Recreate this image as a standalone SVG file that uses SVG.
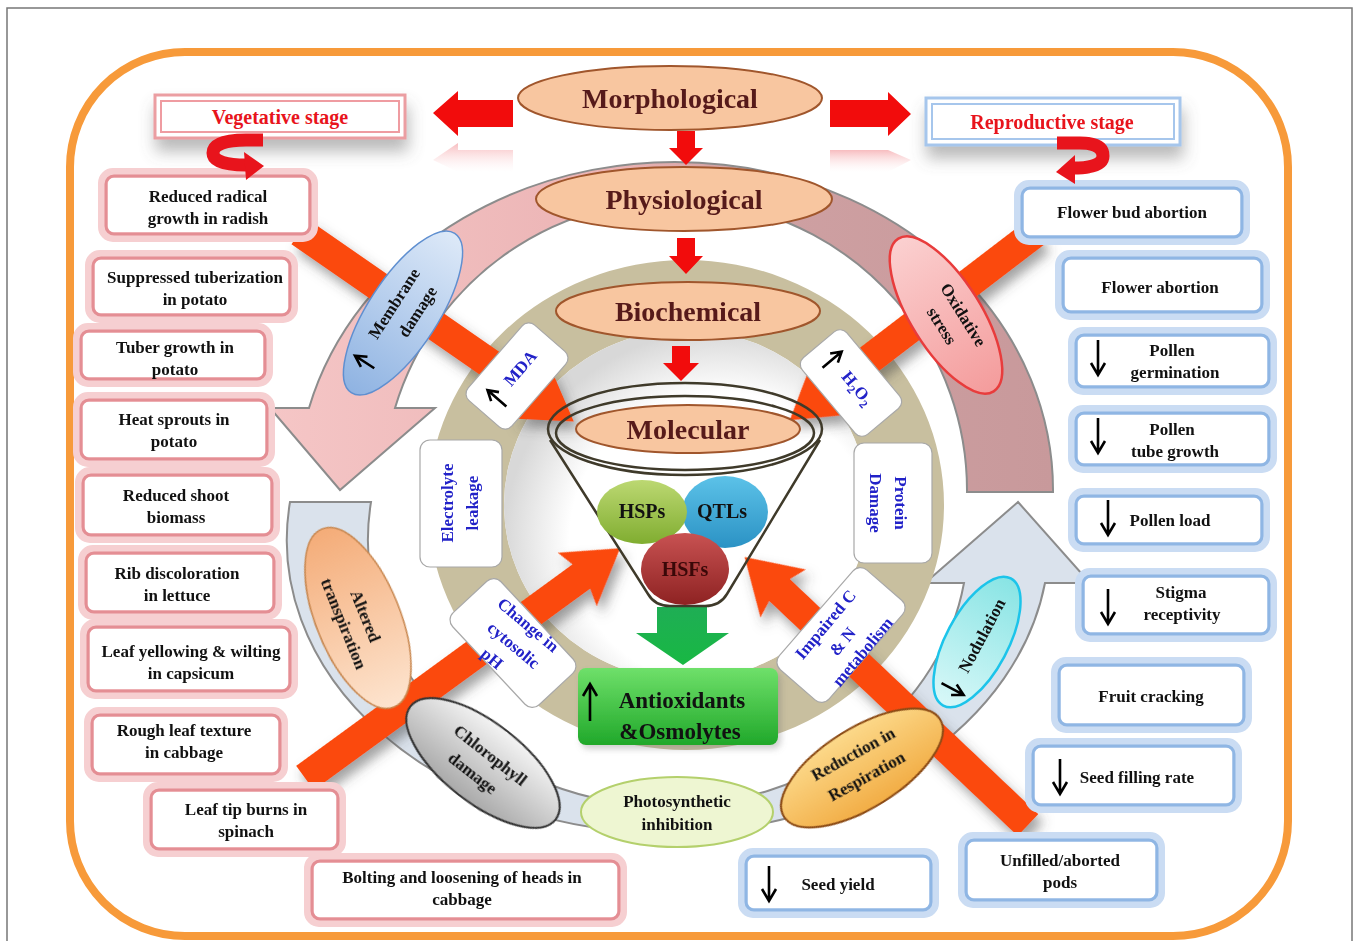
<svg xmlns="http://www.w3.org/2000/svg" width="1358" height="941" viewBox="0 0 1358 941">
<defs>
<style>
.t{font-family:"Liberation Serif","Times New Roman",serif;font-weight:bold;text-anchor:middle}
.bx{font-size:17px;fill:#111}
.blu{font-size:17px;fill:#2222c8}
.big{font-size:28px;fill:#561a1a}
.stg{font-size:20px;fill:#e8141c}
.pk1{fill:#fff;stroke:#f6cfd1;stroke-width:10}
.pk2{fill:none;stroke:#e48e94;stroke-width:3}
.bl1{fill:#fff;stroke:#cadcf3;stroke-width:10}
.bl2{fill:none;stroke:#8fb6e4;stroke-width:3}
.lvl{fill:#f8c6a0;stroke:#a0562c;stroke-width:2}
.wb{fill:#fff;stroke:#a8a8a8;stroke-width:1.2}
.bar{fill:#fb4a0b}
.arr{fill:none;stroke:#000;stroke-width:2.6}
.hook{fill:none;stroke:#e8141c;stroke-width:13}
</style>
<filter id="sh" x="-30%" y="-30%" width="160%" height="180%"><feDropShadow dx="5" dy="8" stdDeviation="6" flood-color="#444" flood-opacity="0.5"/></filter>
<filter id="sh2" x="-20%" y="-40%" width="140%" height="220%"><feDropShadow dx="2" dy="12" stdDeviation="8" flood-color="#666" flood-opacity="0.45"/></filter>
<filter id="sh3" x="-20%" y="-20%" width="140%" height="140%"><feDropShadow dx="3" dy="4" stdDeviation="3" flood-color="#777" flood-opacity="0.35"/></filter>
<linearGradient id="gUp" x1="0" y1="0" x2="1" y2="0"><stop offset="0" stop-color="#f5c6c6"/><stop offset="0.45" stop-color="#ebb3b4"/><stop offset="0.6" stop-color="#cfa1a3"/><stop offset="1" stop-color="#c8999b"/></linearGradient>
<linearGradient id="gRef" x1="0" y1="0" x2="0" y2="1"><stop offset="0" stop-color="#f4a0a4" stop-opacity="0.7"/><stop offset="1" stop-color="#fde4e5" stop-opacity="0"/></linearGradient>
<linearGradient id="gMem" x1="0" y1="0" x2="1" y2="0"><stop offset="0" stop-color="#8fb3e2"/><stop offset="1" stop-color="#dde9f8"/></linearGradient>
<linearGradient id="gOx" x1="0" y1="0" x2="1" y2="0"><stop offset="0" stop-color="#fbd0d0"/><stop offset="1" stop-color="#f49c9c"/></linearGradient>
<linearGradient id="gAlt" x1="0" y1="0" x2="1" y2="0"><stop offset="0" stop-color="#f4ac78"/><stop offset="1" stop-color="#fde4cf"/></linearGradient>
<linearGradient id="gChl" x1="0" y1="0" x2="0" y2="1"><stop offset="0" stop-color="#f4f4f4"/><stop offset="1" stop-color="#a9a9a9"/></linearGradient>
<linearGradient id="gRes" x1="0" y1="0" x2="0" y2="1"><stop offset="0" stop-color="#fcd98a"/><stop offset="1" stop-color="#f2ad45"/></linearGradient>
<linearGradient id="gNod" x1="0" y1="0" x2="1" y2="0"><stop offset="0" stop-color="#d8f8f8"/><stop offset="1" stop-color="#88e4e4"/></linearGradient>
<linearGradient id="gHSP" x1="0" y1="0" x2="0" y2="1"><stop offset="0" stop-color="#bcd872"/><stop offset="1" stop-color="#80ad30"/></linearGradient>
<linearGradient id="gQTL" x1="0" y1="0" x2="0" y2="1"><stop offset="0" stop-color="#5cc2e8"/><stop offset="1" stop-color="#2b92c4"/></linearGradient>
<linearGradient id="gHSF" x1="0" y1="0" x2="0" y2="1"><stop offset="0" stop-color="#c85252"/><stop offset="1" stop-color="#8e2222"/></linearGradient>
<linearGradient id="gGr" x1="0" y1="0" x2="0" y2="1"><stop offset="0" stop-color="#6fe06a"/><stop offset="1" stop-color="#20a82a"/></linearGradient>
<linearGradient id="gGA" x1="0" y1="0" x2="0" y2="1"><stop offset="0" stop-color="#1fae55"/><stop offset="1" stop-color="#18b843"/></linearGradient>
<radialGradient id="gIn" cx="0.6" cy="0.6" r="0.6"><stop offset="0.7" stop-color="#fff"/><stop offset="1" stop-color="#d8d8d8"/></radialGradient>
<path id="dn" class="arr" d="M0,0 V34 M-7,23 L0,35 L7,23"/>
</defs>

<rect width="1358" height="941" fill="#fff"/>
<rect x="7" y="8" width="1345" height="945" fill="none" stroke="#777" stroke-width="1.5"/>
<rect id="frame" x="70" y="52" width="1218" height="884" rx="115" fill="none" stroke="#f79a3a" stroke-width="8"/>

<g id="bands">
<path d="M309,408 A378,328 0 0 1 1053,492 L967,492 A292,290 0 0 0 395,408 L435,408 L340,490 L270,408 Z" fill="url(#gUp)" stroke="#8c8c8c" stroke-width="2"/>
<path d="M290,502 A381,293 0 0 0 668,833 A381,293 0 0 0 1045,583 L1090,583 L1018,502 L925,583 L964,583 A300,266 0 0 1 668,806 A300,266 0 0 1 371,502 Z" fill="#dae2ec" stroke="#8c8c8c" stroke-width="2"/>
<path d="M428,505 A258,245 0 1 0 944,505 A258,245 0 1 0 428,505 Z M504,505 A182,175 0 1 1 868,505 A182,175 0 1 1 504,505 Z" fill="#c8bf9f" fill-rule="evenodd"/>
<ellipse cx="686" cy="505" rx="182" ry="175" fill="url(#gIn)"/>
</g>

<g id="connectors">
<polygon points="513,100 458,100 458,91 433,113 458,136 458,127 513,127" fill="#f20c0c"/>
<polygon points="513,150 458,150 458,143 433,160 458,172 513,172" fill="url(#gRef)"/>
<polygon points="830,100 888,100 888,92 911,114 888,136 888,127 830,127" fill="#f20c0c"/>
<polygon points="830,150 888,150 911,160 888,172 830,172" fill="url(#gRef)"/>
<polygon points="677,131 695,131 695,148 703,148 686,165 669,148 677,148" fill="#f20c0c"/>
<polygon points="677,238 695,238 695,256 703,256 686,274 669,256 677,256" fill="#f20c0c"/>
<polygon points="672,346 690,346 690,363 699,363 681,381 663,363 672,363" fill="#f20c0c"/>
<g filter="url(#sh)">
<polygon class="bar" transform="translate(300,232) rotate(34.7)" points="0,-15 285,-15 280,-33 333,0 280,33 285,15 0,15"/>
<polygon class="bar" transform="translate(1036,232) rotate(142.6)" points="0,-15 262,-15 257,-33 310,0 257,33 262,15 0,15"/>
<polygon class="bar" transform="translate(305,778) rotate(-36.1)" points="0,-15 342,-15 337,-33 390,0 337,33 342,15 0,15"/>
<polygon class="bar" transform="translate(1028,825) rotate(-136.6)" points="0,-15 342,-15 337,-33 390,0 337,33 342,15 0,15"/>
</g>
<polygon points="657,607 707,607 707,633 729,633 683,665 636,633 657,633" fill="url(#gGA)"/>
</g>

<g id="funnel" fill="none" stroke="#3f3a2a" stroke-width="2.5">
<ellipse cx="685" cy="429" rx="137" ry="46"/>
<ellipse cx="685" cy="433" rx="129" ry="37"/>
<path d="M550,440 L648,594 Q655,606 670,606 L705,606 Q720,606 727,594 L820,440"/>
</g>

<g id="morphological"><ellipse class="lvl" cx="670" cy="98" rx="152" ry="32"/><text class="t big" x="670" y="108">Morphological</text></g>
<g id="physiological"><ellipse class="lvl" cx="684" cy="199" rx="148" ry="32"/><text class="t big" x="684" y="209">Physiological</text></g>
<g id="biochemical"><ellipse class="lvl" cx="688" cy="311" rx="132" ry="29"/><text class="t big" x="688" y="321">Biochemical</text></g>
<g id="molecular"><ellipse class="lvl" cx="688" cy="429" rx="112" ry="24"/><text class="t big" x="688" y="439">Molecular</text></g>

<g id="qtls"><ellipse cx="725" cy="512" rx="43" ry="36" fill="url(#gQTL)"/><text class="t" x="722" y="518" font-size="20" fill="#111">QTLs</text></g>
<g id="hsps"><ellipse cx="642" cy="512" rx="45" ry="32" fill="url(#gHSP)"/><text class="t" x="642" y="518" font-size="20" fill="#111">HSPs</text></g>
<g id="hsfs"><ellipse cx="685" cy="569" rx="44" ry="36" fill="url(#gHSF)"/><text class="t" x="685" y="576" font-size="20" fill="#3a0808">HSFs</text></g>

<g id="antioxidants"><rect x="578" y="668" width="200" height="77" rx="8" fill="url(#gGr)" filter="url(#sh3)"/>
<path class="arr" d="M590,721 V685 M583,696 L590,684 L597,696"/>
<text class="t" x="682" y="708" font-size="23" fill="#111">Antioxidants</text>
<text class="t" x="680" y="739" font-size="23" fill="#111">&amp;Osmolytes</text></g>

<g id="mda" transform="translate(517,376) rotate(-49)"><rect class="wb" x="-50" y="-29" width="100" height="58" rx="9"/>
<path class="arr" d="M-30,12 V-12 M-36,-3 L-30,-13 L-24,-3"/><text class="t blu" x="8" y="3">MDA</text></g>
<g id="h2o2" transform="translate(851,383) rotate(50)"><rect class="wb" x="-50" y="-29" width="100" height="58" rx="9"/>
<path class="arr" d="M-30,12 V-12 M-36,-3 L-30,-13 L-24,-3"/><text class="t blu" x="8" y="4">H<tspan font-size="12" dy="4">2</tspan><tspan dy="-4">O</tspan><tspan font-size="12" dy="4">2</tspan></text></g>
<g id="electrolyte"><rect class="wb" x="420" y="440" width="82" height="127" rx="10"/>
<text class="t blu" transform="translate(461,503) rotate(-90)"><tspan x="0" y="-8">Electrolyte</tspan><tspan x="0" y="17">leakage</tspan></text></g>
<g id="protein"><rect class="wb" x="854" y="443" width="78" height="120" rx="10"/>
<text class="t blu" transform="translate(893,503) rotate(90)"><tspan x="0" y="-2">Protein</tspan><tspan x="0" y="23">Damage</tspan></text></g>
<g id="cytosolic"><rect class="wb" transform="translate(513,643) rotate(47)" x="-63" y="-33" width="126" height="66" rx="10"/>
<text class="t blu" transform="translate(513,643) rotate(40)"><tspan x="0" y="-18">Change in</tspan><tspan x="2" y="7">cytosolic</tspan><tspan x="-6" y="31">pH</tspan></text></g>
<g id="impaired"><rect class="wb" transform="translate(841,635) rotate(-49)" x="-66" y="-33" width="132" height="66" rx="10"/>
<text class="t blu" transform="translate(841,635) rotate(-50)"><tspan x="-2" y="-13">Impaired C</tspan><tspan x="-4" y="11">&amp; N</tspan><tspan x="1" y="33">metabolism</tspan></text></g>

<g id="membrane" transform="translate(403,313) rotate(-57)"><ellipse rx="95" ry="35" fill="url(#gMem)" stroke="#5f8fd0" stroke-width="1.5"/>
<path class="arr" d="M-62,6 V-16 M-68,-6 L-62,-17 L-56,-6"/>
<text class="t bx"><tspan x="3" y="-7">Membrane</tspan><tspan x="9" y="17">damage</tspan></text></g>
<g id="oxidative" transform="translate(946,315) rotate(58)"><ellipse rx="90" ry="35" fill="url(#gOx)" stroke="#e83c3c" stroke-width="2.5"/>
<text class="t bx"><tspan x="9" y="-9">Oxidative</tspan><tspan x="7" y="15">stress</tspan></text></g>
<g id="altered" transform="translate(358,618) rotate(68)"><ellipse rx="96" ry="42" fill="url(#gAlt)" stroke="#c8874f" stroke-width="1.5"/>
<text class="t bx"><tspan x="1" y="-2">Altered</tspan><tspan x="0" y="21">transpiration</tspan></text></g>
<g id="chlorophyll" transform="translate(483,763) rotate(38)"><ellipse rx="92" ry="40" fill="url(#gChl)" stroke="#333" stroke-width="2"/>
<text class="t bx"><tspan x="1" y="-5">Chlorophyll</tspan><tspan x="-2" y="20">damage</tspan></text></g>
<g id="photosynthetic"><ellipse cx="677" cy="812" rx="96" ry="35" fill="#eef6d2" stroke="#b4d06c" stroke-width="2"/>
<text class="t bx"><tspan x="677" y="807">Photosynthetic</tspan><tspan x="677" y="830">inhibition</tspan></text></g>
<g id="respiration" transform="translate(862,768) rotate(-32)"><ellipse rx="92" ry="40" fill="url(#gRes)" stroke="#8b4a14" stroke-width="2"/>
<text class="t bx" transform="rotate(3)"><tspan x="-1" y="-11">Reduction in</tspan><tspan x="0" y="15">Respiration</tspan></text></g>
<g id="nodulation" transform="translate(977,642) rotate(-62)"><ellipse rx="72" ry="31" fill="url(#gNod)" stroke="#1cc4ea" stroke-width="2.5"/>
<path class="arr" d="M-53,-12 V12 M-59,2 L-53,13 L-47,2"/>
<text class="t bx" x="8" y="7">Nodulation</text></g>

<g id="vegetative"><rect x="155" y="95" width="250" height="43" fill="#fff" stroke="#eb9ea2" stroke-width="3" filter="url(#sh2)"/>
<rect x="161" y="101" width="238" height="31" fill="none" stroke="#ef9ca1" stroke-width="2"/>
<text class="t stg" x="280" y="124">Vegetative stage</text></g>
<g id="reproductive"><rect x="926" y="98" width="254" height="47" fill="#fff" stroke="#a6c6ec" stroke-width="3" filter="url(#sh2)"/>
<rect x="932" y="104" width="242" height="35" fill="none" stroke="#a6c6ec" stroke-width="2"/>
<text class="t stg" x="1052" y="129">Reproductive stage</text></g>

<g id="v1"><rect class="pk1" x="103" y="173" width="210" height="64" rx="10"/><rect class="pk2" x="106" y="176" width="204" height="58" rx="8"/><text class="t bx"><tspan x="208" y="202">Reduced radical</tspan><tspan x="208" y="224">growth in radish</tspan></text></g>
<g id="v2"><rect class="pk1" x="90" y="255" width="203" height="63" rx="10"/><rect class="pk2" x="93" y="258" width="197" height="57" rx="8"/><text class="t bx"><tspan x="195" y="283">Suppressed tuberization</tspan><tspan x="195" y="305">in potato</tspan></text></g>
<g id="v3"><rect class="pk1" x="78" y="328" width="190" height="54" rx="10"/><rect class="pk2" x="81" y="331" width="184" height="48" rx="8"/><text class="t bx"><tspan x="175" y="353">Tuber growth in</tspan><tspan x="175" y="375">potato</tspan></text></g>
<g id="v4"><rect class="pk1" x="78" y="397" width="192" height="65" rx="10"/><rect class="pk2" x="81" y="400" width="186" height="59" rx="8"/><text class="t bx"><tspan x="174" y="425">Heat sprouts in</tspan><tspan x="174" y="447">potato</tspan></text></g>
<g id="v5"><rect class="pk1" x="80" y="472" width="195" height="66" rx="10"/><rect class="pk2" x="83" y="475" width="189" height="60" rx="8"/><text class="t bx"><tspan x="176" y="501">Reduced shoot</tspan><tspan x="176" y="523">biomass</tspan></text></g>
<g id="v6"><rect class="pk1" x="83" y="550" width="194" height="65" rx="10"/><rect class="pk2" x="86" y="553" width="188" height="59" rx="8"/><text class="t bx"><tspan x="177" y="579">Rib discoloration</tspan><tspan x="177" y="601">in lettuce</tspan></text></g>
<g id="v7"><rect class="pk1" x="85" y="624" width="208" height="70" rx="10"/><rect class="pk2" x="88" y="627" width="202" height="64" rx="8"/><text class="t bx"><tspan x="191" y="657">Leaf yellowing &amp; wilting</tspan><tspan x="191" y="679">in capsicum</tspan></text></g>
<g id="v8"><rect class="pk1" x="89" y="712" width="194" height="65" rx="10"/><rect class="pk2" x="92" y="715" width="188" height="59" rx="8"/><text class="t bx"><tspan x="184" y="736">Rough leaf texture</tspan><tspan x="184" y="758">in cabbage</tspan></text></g>
<g id="v9"><rect class="pk1" x="148" y="787" width="193" height="65" rx="10"/><rect class="pk2" x="151" y="790" width="187" height="59" rx="8"/><text class="t bx"><tspan x="246" y="815">Leaf tip burns in</tspan><tspan x="246" y="837">spinach</tspan></text></g>
<g id="v10"><rect class="pk1" x="309" y="858" width="313" height="64" rx="10"/><rect class="pk2" x="312" y="861" width="307" height="58" rx="8"/><text class="t bx"><tspan x="462" y="883">Bolting and loosening of heads in</tspan><tspan x="462" y="905">cabbage</tspan></text></g>

<g id="r1"><rect class="bl1" x="1019" y="185" width="226" height="55" rx="10"/><rect class="bl2" x="1022" y="188" width="220" height="49" rx="8"/><text class="t bx" x="1132" y="218">Flower bud abortion</text></g>
<g id="r2"><rect class="bl1" x="1060" y="255" width="205" height="60" rx="10"/><rect class="bl2" x="1063" y="258" width="199" height="54" rx="8"/><text class="t bx" x="1160" y="293">Flower abortion</text></g>
<g id="r3"><rect class="bl1" x="1073" y="332" width="199" height="58" rx="10"/><rect class="bl2" x="1076" y="335" width="193" height="52" rx="8"/><use href="#dn" x="1098" y="340"/><text class="t bx"><tspan x="1172" y="356">Pollen</tspan><tspan x="1175" y="378">germination</tspan></text></g>
<g id="r4"><rect class="bl1" x="1073" y="410" width="199" height="58" rx="10"/><rect class="bl2" x="1076" y="413" width="193" height="52" rx="8"/><use href="#dn" x="1098" y="418"/><text class="t bx"><tspan x="1172" y="435">Pollen</tspan><tspan x="1175" y="457">tube growth</tspan></text></g>
<g id="r5"><rect class="bl1" x="1073" y="493" width="192" height="54" rx="10"/><rect class="bl2" x="1076" y="496" width="186" height="48" rx="8"/><use href="#dn" x="1108" y="500"/><text class="t bx" x="1170" y="526">Pollen load</text></g>
<g id="r6"><rect class="bl1" x="1080" y="573" width="192" height="64" rx="10"/><rect class="bl2" x="1083" y="576" width="186" height="58" rx="8"/><use href="#dn" x="1108" y="589"/><text class="t bx"><tspan x="1181" y="598">Stigma</tspan><tspan x="1182" y="620">receptivity</tspan></text></g>
<g id="r7"><rect class="bl1" x="1056" y="662" width="191" height="66" rx="10"/><rect class="bl2" x="1059" y="665" width="185" height="60" rx="8"/><text class="t bx" x="1151" y="702">Fruit cracking</text></g>
<g id="r8"><rect class="bl1" x="1030" y="743" width="207" height="65" rx="10"/><rect class="bl2" x="1033" y="746" width="201" height="59" rx="8"/><use href="#dn" x="1060" y="759"/><text class="t bx" x="1137" y="783">Seed filling rate</text></g>
<g id="r9"><rect class="bl1" x="963" y="837" width="197" height="66" rx="10"/><rect class="bl2" x="966" y="840" width="191" height="60" rx="8"/><text class="t bx"><tspan x="1060" y="866">Unfilled/aborted</tspan><tspan x="1060" y="888">pods</tspan></text></g>
<g id="r10"><rect class="bl1" x="743" y="853" width="191" height="60" rx="10"/><rect class="bl2" x="746" y="856" width="185" height="54" rx="8"/><use href="#dn" x="769" y="866"/><text class="t bx" x="838" y="890">Seed yield</text></g>

<g id="hooks">
<path class="hook" d="M263,140 H246 C226,140 213,144 213,153 C213,162 228,165 246,165"/>
<polygon points="244,152 264,166 246,180" fill="#e8141c"/>
<path class="hook" d="M1057,143 H1080 C1097,143 1103,148 1103,156 C1103,165 1090,168 1073,168"/>
<polygon points="1075,155 1056,172 1075,184" fill="#e8141c"/>
</g>
</svg>
